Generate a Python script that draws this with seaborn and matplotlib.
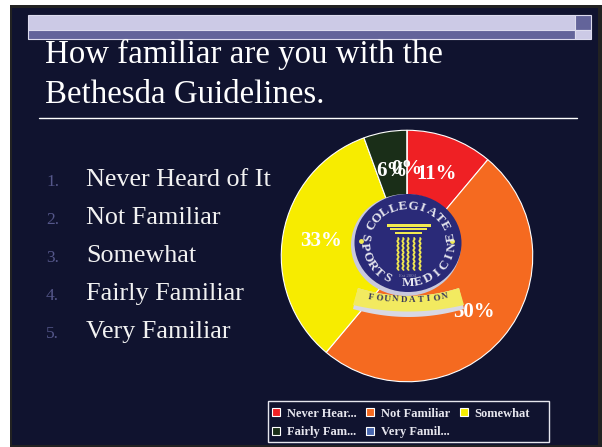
import numpy as np
import seaborn as sns
import matplotlib
matplotlib.use("Agg")
import matplotlib.pyplot as plt
from matplotlib.patches import Ellipse, Polygon, Rectangle

# answers to the slide question
categories = ["Never Hear...", "Not Familiar", "Somewhat", "Fairly Fam...", "Very Famil..."]
counts = [2, 9, 6, 1, 0]
colours = ["#ef2024", "#f56a20", "#f7ec00", "#1a2e18", "#4a68b0"]
choices = ["Never Heard of It", "Not Familiar", "Somewhat", "Fairly Familiar", "Very Familiar"]
title_lines = ["How familiar are you with the", "Bethesda Guidelines."]

BG = "#10132f"
W, H = 602, 447


def px_axes(zorder):
    # full figure axes that works in image pixels, y pointing down
    a = fig.add_axes([0, 0, 1, 1], zorder=zorder)
    a.set_xlim(0, W)
    a.set_ylim(H, 0)
    a.axis("off")
    return a


def arc_text(a, txt, cx, cy, rx, ry, start, end, bottom=False, **kw):
    for ch, t in zip(txt, np.linspace(start, end, len(txt))):
        rad = np.radians(t)
        sign = 1 if bottom else -1
        a.text(cx + rx * np.sin(rad), cy + sign * ry * np.cos(rad), ch,
               rotation=t if bottom else -t, ha="center", va="center",
               rotation_mode="anchor", **kw)


sns.set_theme(style="white")
plt.rcParams["font.family"] = ["Liberation Serif", "DejaVu Serif"]

fig = plt.figure(figsize=(W / 100, H / 100), dpi=100, facecolor="white")

# slide background, header bar, title and list
deco = px_axes(0)
deco.add_patch(Rectangle((10, 5), W - 10, H - 5, fc="#222222", ec="none"))
deco.add_patch(Rectangle((12, 8), 586, 437, fc=BG, ec="none"))
for x, y, w, h, col in [(28, 15, 547, 15, "#cccae6"), (28, 30, 547, 9, "#63649a"),
                        (575, 15, 16, 15, "#63649a"), (575, 30, 16, 9, "#cccae6")]:
    deco.add_patch(Rectangle((x, y), w, h, fc=col, ec="#dddcee", lw=0.8))

deco.text(45, 63, title_lines[0], color="white", fontsize=23.7, va="baseline")
deco.text(45, 103, title_lines[1], color="white", fontsize=23.7, va="baseline")
deco.plot([39, 577], [118, 118], color="white", lw=1)

for i, item in enumerate(choices):
    y = 186 + i * 38
    deco.text(46, y, f"{i + 1}.", color="#55578a", fontsize=12.5, va="baseline")
    deco.text(86, y, item, color="#f2f2f2", fontsize=18.8, va="baseline")

# box round the legend, wider than matplotlib would make it
deco.add_patch(Rectangle((268, 401), 281, 41, fc=BG, ec="#e6e6ee", lw=1))

# the pie itself, 254 px wide around (407, 256)
ax = fig.add_axes([(407 - 127) / W, 1 - (256 + 127) / H, 254 / W, 254 / H], zorder=1)
wedges, _, pct = ax.pie(counts, colors=sns.color_palette(colours), startangle=90,
                        counterclock=False, radius=1, autopct="%.0f%%", pctdistance=0.69,
                        wedgeprops={"edgecolor": "white", "linewidth": 0.8})
ax.set_xlim(-1.01, 1.01)
ax.set_ylim(-1.01, 1.01)
for p in pct:
    p.set_color("white")
    p.set_fontsize(15)
    p.set_fontweight("bold")

# logo over the middle of the pie
logo = px_axes(2)
logo.add_patch(Ellipse((406, 245), 110, 102, fc="#c9c9dd", ec="none"))
logo.add_patch(Ellipse((408, 243), 107, 98, fc="#2a2a78", ec="none"))

# ribbon under the seal, pale shadow first
t = np.linspace(0, 1, 30)
edge_top = np.column_stack([358 + 101 * t, 288 + 32 * t * (1 - t)])
shadow = np.column_stack([464 - 111 * t, 309 + 32 * t * (1 - t)])
yellow = np.column_stack([464 - 111 * t, 305 + 26 * t * (1 - t)])
logo.add_patch(Polygon(np.vstack([edge_top, shadow]), fc="#d8d8e4", ec="none"))
logo.add_patch(Polygon(np.vstack([edge_top, yellow]), fc="#f2ea60", ec="none"))

arc_text(logo, "COLLEGIATE", 408, 243, 41, 37, -62, 62, color="#e8e8f0", fontsize=9.5, fontweight="bold")
arc_text(logo, "SPORTS MEDICINE", 408, 243, 44, 40, -98, 98, bottom=True, color="#e8e8f0", fontsize=9.5, fontweight="bold")
arc_text(logo, "FOUNDATION", 408, 70, 230, 230, -9.3, 9.3, bottom=True, color="#35355a", fontsize=6.5, fontweight="bold")
logo.text(408, 276, "Est 2004", color="#8a8ab0", fontsize=3.5, ha="center", va="center")
logo.plot([361, 452], [241, 241], ls="none", marker="o", ms=2.5, color="#f2ea50")

for x0, x1, y0, h in [(387, 431, 224, 3), (390, 427, 228, 2), (395, 422, 232, 2)]:
    logo.add_patch(Rectangle((x0, y0), x1 - x0, h, fc="#f2ea50", ec="none"))
yy = np.linspace(238, 270, 40)
for x in [398, 403, 408, 414, 420]:
    logo.plot(x + 0.7 * np.sin(yy * 1.4), yy, color="#f2ea50", lw=1.3)

# legend fills by column, so hand it the entries column by column
order = [0, 3, 1, 4, 2]
leg = fig.legend([wedges[i] for i in order], [categories[i] for i in order], ncol=3, loc="lower left",
                 bbox_to_anchor=(272 / W, 1 - 438.5 / H), borderaxespad=0, borderpad=0, frameon=False,
                 prop={"family": "Liberation Serif", "size": 9, "weight": "bold"},
                 labelcolor="#e6e6ee", handlelength=0.65, handleheight=0.65, handletextpad=0.55,
                 columnspacing=0.75, labelspacing=0.55)
leg.set_zorder(3)

fig.savefig("out.png", dpi=100, facecolor=fig.get_facecolor())
